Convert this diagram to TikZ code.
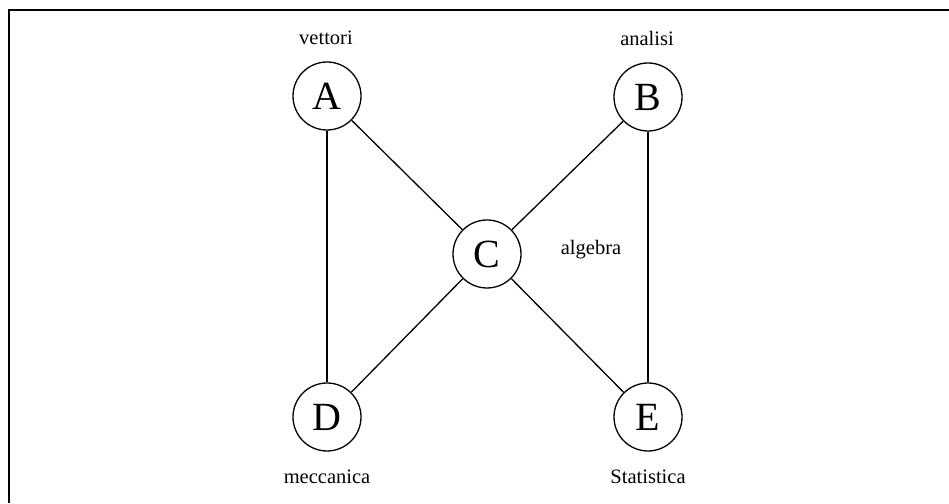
\documentclass[tikz,border=0pt]{standalone}
\usepackage{fontspec}
\setmainfont{Liberation Serif}
\begin{document}
\begin{tikzpicture}[x=1pt,y=1pt,
  vertex/.style={circle,draw,line width=1.3pt,minimum size=68pt,inner sep=0pt,font=\fontsize{40}{44}\selectfont},
  lbl/.style={font=\fontsize{20.5}{24}\selectfont,inner sep=0pt},
  edge/.style={line width=1.3pt}]
\useasboundingbox (0,0) rectangle (949,503);
\coordinate (fl) at (9,0);
\coordinate (ft) at (9,493);
\coordinate (fr) at (949,493);
\draw[line width=1.6pt] (fl) -- (ft) -- (fr);
\node[vertex] (A) at (327,407) {A};
\node[vertex] (B) at (648,406) {B};
\node[vertex] (C) at (487,249) {C};
\node[vertex] (D) at (327,86) {D};
\node[vertex] (E) at (648,86) {E};
\node[lbl] (la) at (326,465) {vettori};
\node[lbl] (lb) at (647,465) {analisi};
\node[lbl] (lc) at (591,253) {algebra};
\node[lbl] (ld) at (327,26) {meccanica};
\node[lbl] (le) at (648,26) {Statistica};
\draw[edge] (A) -- (C);
\draw[edge] (A) -- (D);
\draw[edge] (B) -- (C);
\draw[edge] (B) -- (E);
\draw[edge] (C) -- (D);
\draw[edge] (C) -- (E);
\end{tikzpicture}
\end{document}
